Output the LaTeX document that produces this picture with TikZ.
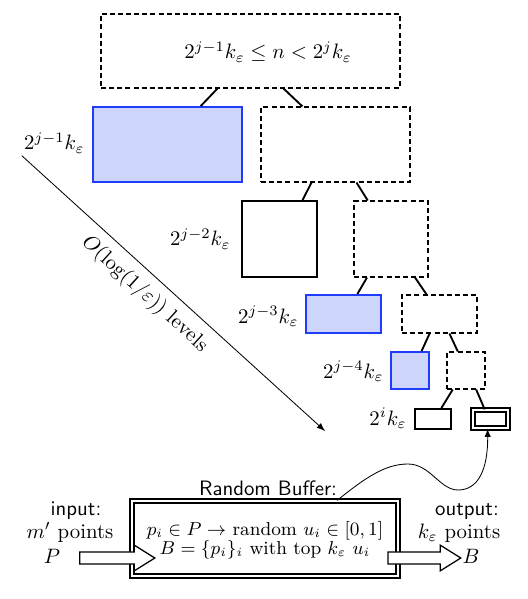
\documentclass[tikz,border=0pt]{standalone}
\usetikzlibrary{positioning,calc,fit,shapes.arrows}

\definecolor{bufblue}{RGB}{30,60,250}
\definecolor{buflight}{RGB}{205,214,250}

\begin{document}
\begin{tikzpicture}[x=0.48pt, y=-0.48pt,
  box/.style = {draw, inner sep=0pt},
  dashbox/.style = {box, line width=0.5pt, dash pattern=on 2.4pt off 1.5pt},
  fullbox/.style = {box, draw=bufblue, fill=buflight, line width=0.9pt},
  plainbox/.style = {box, line width=0.9pt},
  dblbox/.style = {box, double, double distance=1.3pt, line width=0.6pt},
  size/.style = {inner sep=1pt, anchor=base east},
  edge/.style = {line width=0.9pt},
  arr/.style = {-latex},
  fat/.style = {draw, semithick, fill=white, single arrow, inner sep=2.6pt,
    single arrow head extend=3.3pt, single arrow tip angle=64,
    single arrow head indent=0pt},
  lbl/.style = {font=\sffamily}
  ]
  \useasboundingbox (0,0) rectangle (527,599);

  % buffer tree
  \node (top) [dashbox, fit={(101,14) (400,88)}] {};
  \node (ineq) [anchor=base west, inner sep=0pt] at (184,59)
    {$2^{j-1}k_\varepsilon \le n < 2^j k_\varepsilon$};
  \node (l1a) [fullbox, fit={(93,107) (242,182)}] {};
  \node (l1b) [dashbox, fit={(261,107) (410,182)}] {};
  \node (l2a) [plainbox, fit={(242,201) (317,277)}] {};
  \node (l2b) [dashbox, fit={(354,201) (428,277)}] {};
  \node (l3a) [fullbox, fit={(306,295) (381,333)}] {};
  \node (l3b) [dashbox, fit={(402,295) (477,333)}] {};
  \node (l4a) [fullbox, fit={(391,352) (429,389)}] {};
  \node (l4b) [dashbox, fit={(447,352) (485,389)}] {};
  \node (l5a) [plainbox, fit={(415,409) (451,429)}] {};
  \node (l5b) [dblbox, fit={(473,410) (508,428)}] {};

  \foreach \p/\a/\c/\b in {top/.39/l1a/.72, top/.61/l1b/.28,
      l1b/.34/l2a/.80, l1b/.64/l2b/.19, l2b/.18/l3a/.68, l2b/.82/l3b/.33,
      l3b/.37/l4a/.79, l3b/.63/l4b/.29, l4b/.16/l5a/.72, l4b/.76/l5b/.34}
    \draw [edge] ($(\p.south west)!\a!(\p.south east)$)
      -- ($(\c.north west)!\b!(\c.north east)$);

  \node (lab1) [size] at (87,150) {$2^{j-1}k_\varepsilon$};
  \node (lab2) [size] at (233,246) {$2^{j-2}k_\varepsilon$};
  \node (lab3) [size] at (301,323) {$2^{j-3}k_\varepsilon$};
  \node (lab4) [size] at (386,378) {$2^{j-4}k_\varepsilon$};
  \node (lab5) [size] at (409,425) {$2^{i}k_\varepsilon$};

  \coordinate (levend) at (325,431);
  \draw [arr, thin] (lab1.south west) -- node [sloped, below=1pt, pos=.45] (levtxt)
    {$O(\log(1/\varepsilon))$ levels} (levend);

  % random buffer
  \node (buffer) [dblbox, fit={(132,501) (398,576)}] {};
  \node (buftitle) [lbl, anchor=base] at (268,495) {Random Buffer:};
  \node (buftext) [font=\small, align=center] at (265,540)
    {$p_i \in P \rightarrow$ random $u_i \in [0,1]$\\[-2pt]
     $B = \{p_i\}_i$ with top $k_\varepsilon$ $u_i$};

  \node (inlbl) [lbl, anchor=base] at (76,515) {input:};
  \node (inpts) [anchor=base] at (70,538) {$m'$ points};
  \node (srcP) [anchor=base] at (52,563) {$P$};
  \node (outlbl) [lbl, anchor=base] at (467,515) {output:};
  \node (outpts) [anchor=base] at (459,538) {$k_\varepsilon$ points};
  \node (dstB) [anchor=base] at (471,563) {$B$};

  \node (inarrow) [fat, minimum height=36pt] at (112.5,558) {};
  \node (outarrow) [fat, minimum height=35pt] at (419.5,558) {};

  \draw [arr, thin] ($(buffer.north west)!.77!(buffer.north east)$)
    .. controls (365,478) and (385,464) .. (408,464)
    .. controls (430,464) and (440,490) .. (458,490)
    .. controls (478,490) and (488,470) .. ($(l5b.south west)!.42!(l5b.south east)$);
\end{tikzpicture}
\end{document}
